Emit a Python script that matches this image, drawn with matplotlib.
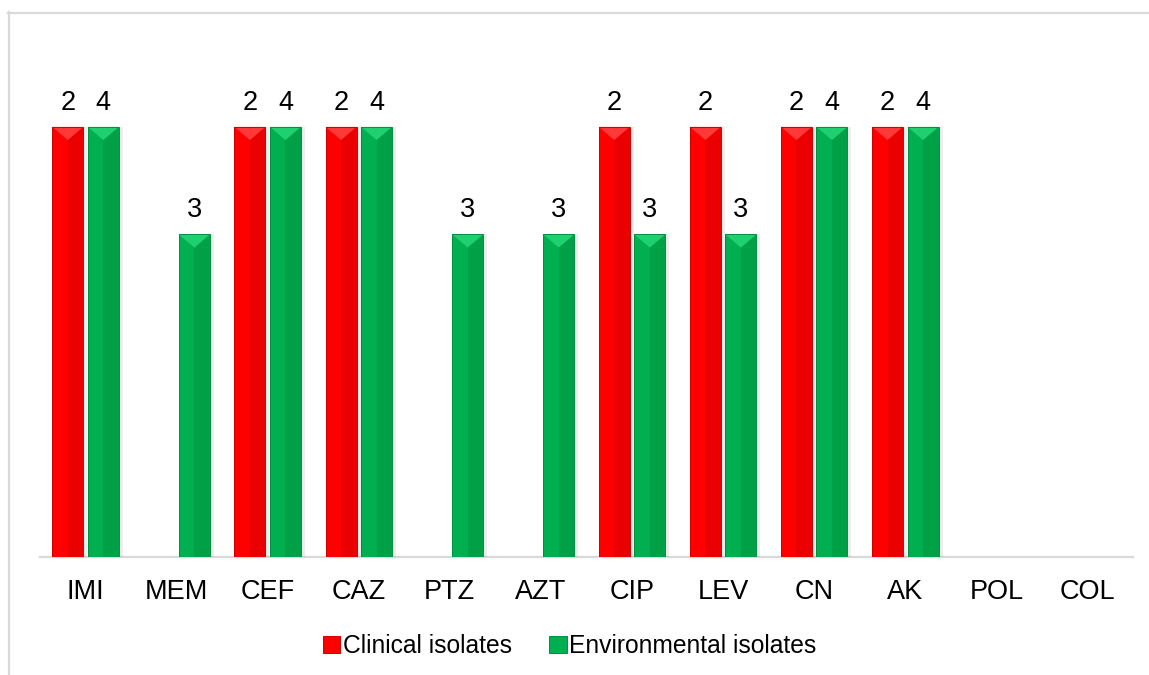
import matplotlib
matplotlib.use("Agg")
import matplotlib.pyplot as plt
from matplotlib.patches import Polygon, Rectangle
from matplotlib.lines import Line2D

plt.rcParams['font.family'] = ['Liberation Sans', 'DejaVu Sans']

categories = ['IMI', 'MEM', 'CEF', 'CAZ', 'PTZ', 'AZT', 'CIP', 'LEV', 'CN', 'AK', 'POL', 'COL']
clinical_pct = [100, 0, 100, 100, 0, 0, 100, 100, 100, 100, 0, 0]
environmental_pct = [100, 75, 100, 100, 75, 75, 75, 75, 100, 100, 0, 0]
clinical_n = [2, None, 2, 2, None, None, 2, 2, 2, 2, None, None]
environmental_n = [4, 3, 4, 4, 3, 3, 3, 3, 4, 4, None, None]
series_names = ['Clinical isolates', 'Environmental isolates']

FS = 19.5
LFS = 17.7
W, H = 1149, 675
fig = plt.figure(figsize=(W / 100, H / 100), dpi=100)
ax = fig.add_axes([40 / W, 1 - 557 / H, (1133 - 40) / W, (557 - 40) / H])
n = len(categories)
ax.set_xlim(-0.5, n - 0.5)
ax.set_ylim(0, 120.2)

colors = {'base': ['#FF0000', '#00B050'],
          'dark': ['#EA0000', '#00A046'],
          'light': ['#FF3838', '#1FD070'],
          'edge': ['#D00000', '#009040']}

bw = 0.34
off = 0.195
xs = list(range(n))
fig.canvas.draw()
px_y = ax.transData.transform((0, 1))[1] - ax.transData.transform((0, 0))[1]
px_x = ax.transData.transform((1, 0))[0] - ax.transData.transform((0, 0))[0]

for si, (vals, labs) in enumerate([(clinical_pct, clinical_n), (environmental_pct, environmental_n)]):
    pos = [x + (-off if si == 0 else off) for x in xs]
    # soft shadow
    ax.bar([p + 2 / px_x for p in pos], vals, width=bw + 4 / px_x, color='#000000', alpha=0.07,
           zorder=1, linewidth=0)
    bars = ax.bar(pos, vals, width=bw, color=colors['base'][si], zorder=2, linewidth=0)
    for b, lab in zip(bars, labs):
        h = b.get_height()
        if h <= 0:
            continue
        x0 = b.get_x()
        w = b.get_width()
        xc = x0 + w / 2
        half_px = w * px_x / 2
        depth = half_px * 0.85 / px_y
        # darker right half
        ax.add_patch(Rectangle((xc, 0), w / 2, h - depth, facecolor=colors['dark'][si], linewidth=0, zorder=3))
        ax.add_patch(Polygon([(xc, h - depth), (x0 + w, h), (x0 + w, h - depth)], closed=True,
                             facecolor=colors['dark'][si], linewidth=0, zorder=3))
        # lighter top triangle
        ax.add_patch(Polygon([(x0, h), (x0 + w, h), (xc, h - depth)], closed=True,
                             facecolor=colors['light'][si], linewidth=0, zorder=4))
        ax.add_patch(Rectangle((x0, 0), w, h, facecolor='none', edgecolor=colors['edge'][si],
                               linewidth=0.7, zorder=5))
        if lab is not None:
            ax.annotate(str(lab), (xc, h), xytext=(0, 17.5), textcoords='offset points',
                        ha='center', va='center', fontsize=FS, color='#000000')

for s in ['top', 'right', 'left']:
    ax.spines[s].set_visible(False)
ax.spines['bottom'].set_color('#D9D9D9')
ax.spines['bottom'].set_linewidth(1.6)
ax.spines['bottom'].set_zorder(0.5)
ax.set_yticks([])
ax.set_xticks(xs)
ax.set_xticklabels(categories, fontsize=FS)
ax.tick_params(axis='x', length=0, pad=16)

handles = [Rectangle((0, 0), 1, 1, facecolor=colors['base'][i], edgecolor=colors['edge'][i], linewidth=0.7)
           for i in range(2)]
fig.legend(handles, series_names, loc='center', bbox_to_anchor=(570 / W, 1 - 646 / H), ncol=2,
           frameon=False, fontsize=LFS, handlelength=0.7, handleheight=0.7, handletextpad=0.12,
           columnspacing=1.5, borderpad=0)

# outer frame lines
fig.add_artist(Line2D([8.5 / W, 8.5 / W], [0, 1 - 12 / H], color='#D9D9D9', linewidth=1.6))
fig.add_artist(Line2D([8 / W, 1], [1 - 12.5 / H, 1 - 12.5 / H], color='#D9D9D9', linewidth=1.6))

fig.savefig('out.png', dpi=100)
